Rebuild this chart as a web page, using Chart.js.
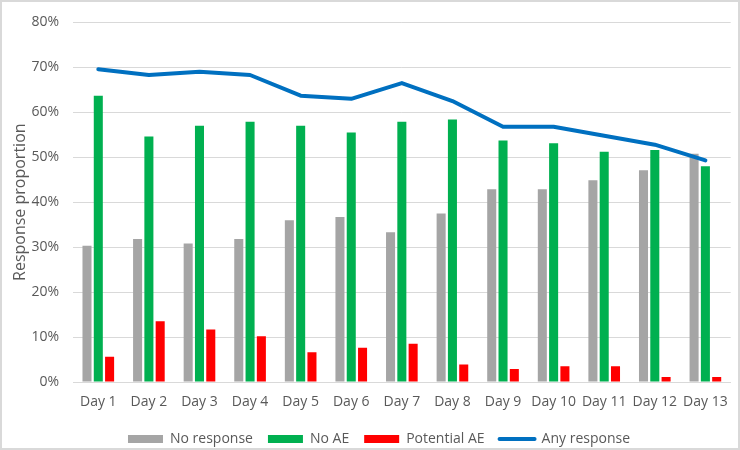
<!DOCTYPE html>
<html>
<head>
<meta charset="utf-8">
<script src="https://cdn.jsdelivr.net/npm/chart.js@4/dist/chart.umd.min.js"></script>
<style>
  html, body { margin: 0; padding: 0; background: #fff; }
  #wrap { width: 740px; height: 450px; position: relative; }
</style>
</head>
<body>
<div id="wrap"><canvas id="c" width="740" height="450"></canvas></div>
<script>
const categories = ["Day 1","Day 2","Day 3","Day 4","Day 5","Day 6","Day 7","Day 8","Day 9","Day 10","Day 11","Day 12","Day 13"];
const noResponse  = [30.3, 31.8, 30.8, 31.8, 36.0, 36.7, 33.3, 37.5, 42.9, 42.9, 44.9, 47.1, 50.8];
const noAE        = [63.7, 54.6, 57.0, 57.9, 57.0, 55.5, 57.9, 58.4, 53.7, 53.1, 51.2, 51.6, 48.0];
const potentialAE = [5.6, 13.5, 11.7, 10.2, 6.6, 7.6, 8.5, 3.9, 2.9, 3.5, 3.5, 1.1, 1.1];
const anyResponse = [69.6, 68.3, 69.0, 68.3, 63.7, 63.0, 66.5, 62.5, 56.8, 56.8, 54.8, 52.8, 49.3];
const yTicks = [0, 10, 20, 30, 40, 50, 60, 70, 80];

const FONT = "'Open Sans', 'Noto Sans', sans-serif";
const TXT = '#595959';

const frame = {
  id: 'frame',
  beforeDraw(chart) {
    const ctx = chart.ctx;
    ctx.save();
    ctx.fillStyle = '#fff';
    ctx.fillRect(0, 0, chart.width, chart.height);
    ctx.restore();
  },
  afterDraw(chart) {
    const ctx = chart.ctx;
    ctx.save();
    ctx.strokeStyle = '#d9d9d9';
    ctx.lineWidth = 2;
    ctx.strokeRect(1, 1, chart.width - 2, chart.height - 2);
    ctx.restore();
  }
};

const legendTweak = {
  id: 'legendTweak',
  beforeInit(chart) {
    const lg = chart.legend;
    const orig = lg.fit;
    lg.fit = function() { orig.call(this); this.height -= 6; };
  },
  afterLayout(chart) {
    const lg = chart.legend;
    lg.left += 13;
    lg.right += 13;
  }
};

const barCommon = { barPercentage: 0.8, categoryPercentage: 0.67, order: 1 };

new Chart(document.getElementById('c'), {
  data: {
    labels: categories,
    datasets: [
      Object.assign({ type: 'bar', label: 'No response', data: noResponse, backgroundColor: '#A5A5A5' }, barCommon),
      Object.assign({ type: 'bar', label: 'No AE', data: noAE, backgroundColor: '#00B050' }, barCommon),
      Object.assign({ type: 'bar', label: 'Potential AE', data: potentialAE, backgroundColor: '#FF0000' }, barCommon),
      { type: 'line', label: 'Any response', data: anyResponse, borderColor: '#0070C0', backgroundColor: '#0070C0',
        borderWidth: 4, pointRadius: 0, tension: 0, order: 0, borderCapStyle: 'round', borderJoinStyle: 'round' }
    ]
  },
  options: {
    responsive: false,
    animation: false,
    devicePixelRatio: 1,
    layout: { padding: { left: 0, right: 8, top: 17, bottom: 0 } },
    scales: {
      x: {
        grid: { display: false, drawTicks: false },
        border: { display: true, color: '#d9d9d9', width: 1 },
        ticks: { color: TXT, font: { family: FONT, size: 14 }, padding: 12, maxRotation: 0, autoSkip: false },
        afterFit(s) { s.height = 35; }
      },
      y: {
        min: 0, max: 80,
        afterBuildTicks(s) { s.ticks = yTicks.map(v => ({ value: v })); },
        grid: { color: '#d9d9d9', lineWidth: 1, drawTicks: false },
        border: { display: false },
        ticks: { color: TXT, font: { family: FONT, size: 14 }, padding: 14, callback: v => v + '%' },
        title: { display: true, text: 'Response proportion', color: TXT, font: { family: FONT, size: 16 }, padding: { top: 11, bottom: 0 } },
        afterFit(s) { s.width = 73; }
      }
    },
    plugins: {
      tooltip: { enabled: false },
      legend: {
        position: 'bottom',
        labels: {
          color: TXT,
          font: { family: FONT, size: 14 },
          usePointStyle: true,
          pointStyleWidth: 35,
          boxHeight: 8,
          padding: 15,
          sort: (a, b) => a.datasetIndex - b.datasetIndex,
          generateLabels(chart) {
            const items = Chart.defaults.plugins.legend.labels.generateLabels(chart);
            items.forEach(it => {
              const ds = chart.data.datasets[it.datasetIndex];
              if (ds.type === 'line') {
                it.pointStyle = 'line';
                it.strokeStyle = ds.borderColor;
                it.lineWidth = 4;
                it.lineCap = 'round';
              } else {
                it.pointStyle = 'rect';
                it.fillStyle = ds.backgroundColor;
                it.strokeStyle = ds.backgroundColor;
                it.lineWidth = 0;
              }
            });
            return items;
          }
        }
      }
    }
  },
  plugins: [frame, legendTweak]
});
</script>
</body>
</html>
